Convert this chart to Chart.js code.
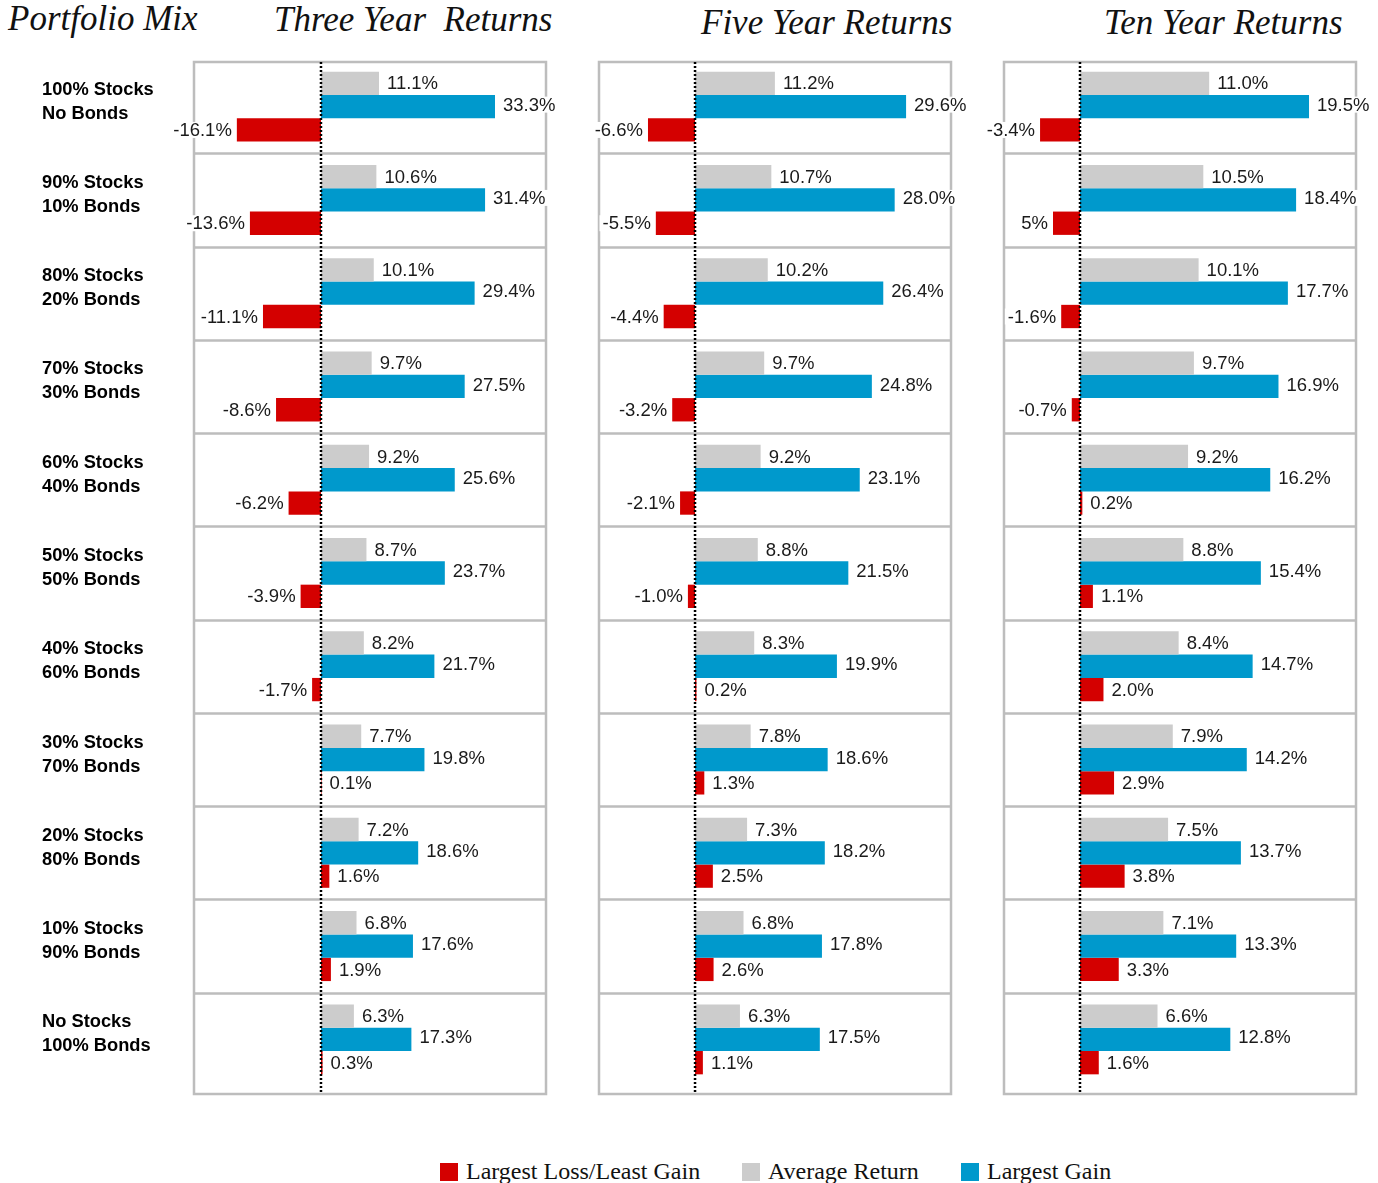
<!DOCTYPE html>
<html>
<head>
<meta charset="utf-8">
<script src="https://cdn.jsdelivr.net/npm/chart.js@4.4.0/dist/chart.umd.min.js"></script>
<style>
  body { margin: 0; background: #fff; width: 1378px; height: 1183px; position: relative; overflow: hidden; }
  canvas { position: absolute; left: 0; top: 0; }
  .title { position: absolute; font-family: "Liberation Serif", "Times New Roman", serif; font-style: italic; font-size: 35px; line-height: 35px; color: #111; white-space: pre; }
  .legend { position: absolute; top: 1157px; font-family: "Liberation Serif", "Times New Roman", serif; font-size: 24px; line-height: 28px; color: #111; white-space: nowrap; }
  .legend span.sw { display: inline-block; width: 18px; height: 18px; vertical-align: -2px; margin-right: 8px; }
</style>
</head>
<body>
<div class="title" style="left:8px; top:1px;">Portfolio Mix</div>
<div class="title" style="left:274px; top:2px;">Three Year  Returns</div>
<div class="title" style="left:701px; top:5px;">Five Year Returns</div>
<div class="title" style="left:1104px; top:5px;">Ten Year Returns</div>

<canvas id="threeYearChart" width="1378" height="1110"></canvas>
<canvas id="fiveYearChart" width="1378" height="1110"></canvas>
<canvas id="tenYearChart" width="1378" height="1110"></canvas>

<div class="legend" style="left:440px;"><span class="sw" style="background:#d40000"></span>Largest Loss/Least Gain</div>
<div class="legend" style="left:742px;"><span class="sw" style="background:#cccccc"></span>Average Return</div>
<div class="legend" style="left:961px;"><span class="sw" style="background:#0099cc"></span>Largest Gain</div>

<script>
// Portfolio mixes (two-line labels)
const portfolios = [
    ['100% Stocks', 'No Bonds'],
    ['90% Stocks', '10% Bonds'],
    ['80% Stocks', '20% Bonds'],
    ['70% Stocks', '30% Bonds'],
    ['60% Stocks', '40% Bonds'],
    ['50% Stocks', '50% Bonds'],
    ['40% Stocks', '60% Bonds'],
    ['30% Stocks', '70% Bonds'],
    ['20% Stocks', '80% Bonds'],
    ['10% Stocks', '90% Bonds'],
    ['No Stocks', '100% Bonds']
];

// Three year returns
const threeYearAvg  = [11.1, 10.6, 10.1, 9.7, 9.2, 8.7, 8.2, 7.7, 7.2, 6.8, 6.3];
const threeYearGain = [33.3, 31.4, 29.4, 27.5, 25.6, 23.7, 21.7, 19.8, 18.6, 17.6, 17.3];
const threeYearLoss = [-16.1, -13.6, -11.1, -8.6, -6.2, -3.9, -1.7, 0.1, 1.6, 1.9, 0.3];

// Five year returns
const fiveYearAvg  = [11.2, 10.7, 10.2, 9.7, 9.2, 8.8, 8.3, 7.8, 7.3, 6.8, 6.3];
const fiveYearGain = [29.6, 28.0, 26.4, 24.8, 23.1, 21.5, 19.9, 18.6, 18.2, 17.8, 17.5];
const fiveYearLoss = [-6.6, -5.5, -4.4, -3.2, -2.1, -1.0, 0.2, 1.3, 2.5, 2.6, 1.1];

// Ten year returns
const tenYearAvg  = [11.0, 10.5, 10.1, 9.7, 9.2, 8.8, 8.4, 7.9, 7.5, 7.1, 6.6];
const tenYearGain = [19.5, 18.4, 17.7, 16.9, 16.2, 15.4, 14.7, 14.2, 13.7, 13.3, 12.8];
const tenYearLoss = [-3.4, -2.3, -1.6, -0.7, 0.2, 1.1, 2.0, 2.9, 3.8, 3.3, 1.6];
// the original shows a clipped label on this bar
const tenYearLossText = [null, '5%'];

const COLORS = {
    avg: '#cccccc',
    gain: '#0099cc',
    loss: '#d40000',
    frame: '#bdbdbd'
};

const LABEL_FONT = '18.5px "Liberation Sans", Arial, sans-serif';
const CAT_FONT = 'bold 18.3px "Liberation Sans", Arial, sans-serif';

// Frame, row separators (behind the bars)
const panelFrame = {
    id: 'panelFrame',
    beforeDatasetsDraw(chart) {
        const { ctx, chartArea } = chart;
        const y = chart.scales.y;
        ctx.save();
        ctx.strokeStyle = COLORS.frame;
        ctx.lineWidth = 2.5;
        ctx.strokeRect(chartArea.left, chartArea.top + 2, chartArea.right - chartArea.left, chartArea.bottom - chartArea.top + 6);
        for (let i = 1; i < chart.data.labels.length; i++) {
            const py = Math.round((y.getPixelForValue(i - 1) + y.getPixelForValue(i)) / 2) + 0.5;
            ctx.beginPath();
            ctx.moveTo(chartArea.left, py);
            ctx.lineTo(chartArea.right, py);
            ctx.stroke();
        }
        ctx.restore();
    }
};

// Dotted zero line + value labels (on top)
const zeroAndLabels = {
    id: 'zeroAndLabels',
    afterDatasetsDraw(chart) {
        const { ctx, chartArea } = chart;
        const x0 = chart.scales.x.getPixelForValue(0);
        ctx.save();
        ctx.strokeStyle = '#000';
        ctx.lineWidth = 2.5;
        ctx.setLineDash([2, 2]);
        ctx.beginPath();
        ctx.moveTo(x0, chartArea.top + 2);
        ctx.lineTo(x0, chartArea.bottom + 8);
        ctx.stroke();
        ctx.setLineDash([]);

        ctx.font = LABEL_FONT;
        ctx.textBaseline = 'middle';
        ctx.textAlign = 'left';
        chart.data.datasets.forEach((ds, di) => {
            const meta = chart.getDatasetMeta(di);
            meta.data.forEach((bar, i) => {
                const v = ds.data[i];
                const text = (ds.labelText && ds.labelText[i]) || v.toFixed(1) + '%';
                const w = ctx.measureText(text).width;
                const tx = v < 0 ? bar.x - 5 - w : bar.x + 8;
                const ty = bar.y + (di === 1 ? -2 : 0);
                ctx.fillStyle = '#fff';
                ctx.fillRect(tx - 3, ty - 8, w + 6, 16);
                ctx.fillStyle = '#1a1a1a';
                ctx.fillText(text, tx, ty + 1);
            });
        });
        ctx.restore();
    }
};

// Portfolio mix labels on the left (first chart only)
const categoryLabels = {
    id: 'categoryLabels',
    afterDraw(chart) {
        const { ctx } = chart;
        const y = chart.scales.y;
        ctx.save();
        ctx.font = CAT_FONT;
        ctx.fillStyle = '#000';
        ctx.textBaseline = 'middle';
        portfolios.forEach((lines, i) => {
            const cy = y.getPixelForValue(i) - 5;
            ctx.fillText(lines[0], 42, cy - 12);
            ctx.fillText(lines[1], 42, cy + 12);
        });
        ctx.restore();
    }
};

function makePanel(id, left, right, xMin, xMax, avg, gain, loss, lossText, extraPlugins) {
    const ctx = document.getElementById(id);
    return new Chart(ctx.getContext('2d'), {
        type: 'bar',
        data: {
            labels: portfolios.map(p => p.join(' ')),
            datasets: [{
                label: 'Average Return',
                data: avg,
                backgroundColor: COLORS.avg
            }, {
                label: 'Largest Gain',
                data: gain,
                backgroundColor: COLORS.gain
            }, {
                label: 'Largest Loss/Least Gain',
                data: loss,
                labelText: lossText,
                backgroundColor: COLORS.loss
            }]
        },
        options: {
            indexAxis: 'y',
            responsive: false,
            animation: false,
            devicePixelRatio: 1,
            categoryPercentage: 0.75,
            barPercentage: 1.0,
            layout: {
                padding: { left: left, right: 1378 - right, top: 60, bottom: 24 }
            },
            plugins: {
                legend: { display: false },
                tooltip: { enabled: false }
            },
            scales: {
                x: { display: false, min: xMin, max: xMax },
                y: { display: false }
            }
        },
        plugins: [panelFrame, zeroAndLabels].concat(extraPlugins || [])
    });
}

makePanel('threeYearChart', 194, 546, -24.3, 43.06, threeYearAvg, threeYearGain, threeYearLoss, null, [categoryLabels]);
makePanel('fiveYearChart', 599, 951, -13.47, 35.9, fiveYearAvg, fiveYearGain, fiveYearLoss, null);
makePanel('tenYearChart', 1004, 1356, -6.47, 23.5, tenYearAvg, tenYearGain, tenYearLoss, tenYearLossText);
</script>
</body>
</html>
